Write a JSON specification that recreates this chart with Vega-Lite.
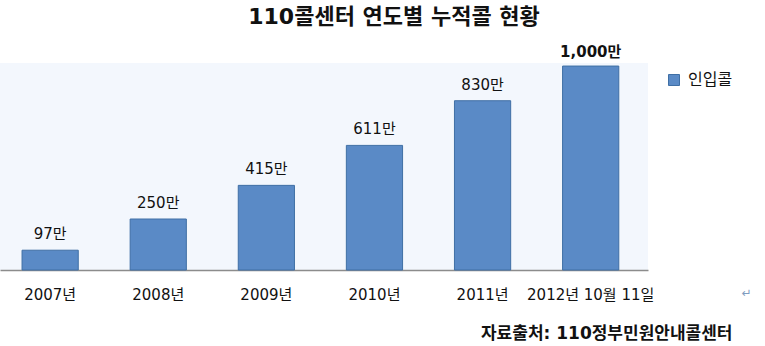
{
  "$schema": "https://vega.github.io/schema/vega-lite/v6.json",
  "width": 648,
  "height": 207,
  "autosize": "none",
  "padding": {"left": 0, "top": 63, "right": 117, "bottom": 76},
  "background": "white",
  "view": {"fill": "#F3F7FD", "stroke": null},
  "config": {"font": "DejaVu Sans, Noto Sans CJK KR"},
  "title": {
    "text": "110콜센터 연도별 누적콜 현황",
    "font": "DejaVu Sans, Noto Sans CJK KR",
    "fontSize": 22,
    "fontWeight": "bold",
    "color": "#111111",
    "anchor": "middle",
    "dx": 70,
    "offset": 16
  },
  "data": {
    "values": [
      {"year": "2007년", "value": 97, "label": "97만", "series": "인입콜"},
      {"year": "2008년", "value": 250, "label": "250만", "series": "인입콜"},
      {"year": "2009년", "value": 415, "label": "415만", "series": "인입콜"},
      {"year": "2010년", "value": 611, "label": "611만", "series": "인입콜"},
      {"year": "2011년", "value": 830, "label": "830만", "series": "인입콜"},
      {"year": "2012년 10월 11일", "value": 1000, "label": "1,000만", "series": "인입콜"}
    ]
  },
  "encoding": {
    "x": {
      "field": "year",
      "type": "nominal",
      "sort": null,
      "scale": {"paddingInner": 0.48, "paddingOuter": 0.237, "align": 0.43},
      "axis": {
        "labelAngle": 0,
        "labelFontSize": 15,
        "labelColor": "#111111",
        "labelPadding": 17,
        "labelOverlap": false,
        "ticks": false,
        "domainColor": "#8C8C8C",
        "domainWidth": 1.5,
        "title": "자료출처: 110정부민원안내콜센터",
        "titleFontSize": 17,
        "titleFontWeight": "bold",
        "titleColor": "#111111",
        "titleAnchor": "end",
        "titleAlign": "right",
        "titleX": 732,
        "titleY": 63,
        "titleBaseline": "middle"
      }
    },
    "y": {
      "field": "value",
      "type": "quantitative",
      "scale": {"domain": [0, 1015], "nice": false},
      "axis": {
        "labels": false,
        "ticks": false,
        "domain": false,
        "grid": false,
        "title": "↵",
        "titleAngle": 0,
        "titleX": 746,
        "titleY": 229,
        "titleAlign": "center",
        "titleBaseline": "middle",
        "titleFontSize": 12,
        "titleFontWeight": "normal",
        "titleColor": "#7F9CC0"
      }
    }
  },
  "layer": [
    {
      "mark": {"type": "bar", "stroke": "#3F6FA5", "strokeWidth": 1},
      "encoding": {
        "color": {
          "field": "series",
          "type": "nominal",
          "scale": {"range": ["#5A8AC6"]},
          "legend": {
            "title": null,
            "orient": "none",
            "legendX": 666,
            "legendY": 9,
            "symbolType": "square",
            "symbolSize": 121,
            "symbolStrokeColor": "#3F6FA5",
            "symbolStrokeWidth": 1,
            "labelFontSize": 16,
            "labelColor": "#111111",
            "labelOffset": 6
          }
        }
      }
    },
    {
      "transform": [{"filter": "datum.value < 1000"}],
      "mark": {"type": "text", "baseline": "bottom", "dy": -8, "fontSize": 15, "color": "#111111"},
      "encoding": {"text": {"field": "label"}}
    },
    {
      "transform": [{"filter": "datum.value >= 1000"}],
      "mark": {"type": "text", "baseline": "bottom", "dy": -6, "fontSize": 15, "fontWeight": "bold", "color": "#111111"},
      "encoding": {"text": {"field": "label"}}
    }
  ]
}
